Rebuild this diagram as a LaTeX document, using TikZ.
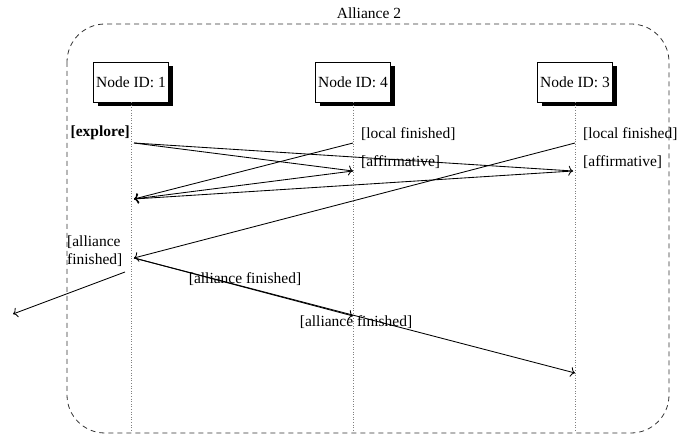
\documentclass[tikz,border=0pt]{standalone}
\usepackage{fontspec}
\setmainfont{Liberation Serif}
\usetikzlibrary{shadows,arrows.meta}
\begin{document}
\begin{tikzpicture}[x=1pt,y=-1pt,
  txt/.style={font=\fontsize{15.5}{18}\selectfont, inner sep=0pt},
  process/.style={draw, fill=white, line width=0.6pt, minimum width=75pt,
    minimum height=40pt, inner sep=2pt, font=\fontsize{15.5}{18}\selectfont,
    drop shadow={shadow xshift=4pt, shadow yshift=-4pt, fill=black, opacity=1}},
  lifeline/.style={gray, dotted, line width=0.6pt},
  msg/.style={-{To[length=4.5pt,width=10pt]}, line width=0.85pt},
  frame/.style={draw=black!80, dash pattern=on 5pt off 4pt, line width=0.8pt,
    rounded corners=38pt}]
\useasboundingbox (0,0) rectangle (680,435);

% alliance frame
\draw[frame] (67,24) rectangle (669,433);
\node[txt] (title) at (369,13) {Alliance 2};

% processes and lifelines
\node[process] (n1) at (131,82) {Node ID: 1};
\node[process] (n4) at (353,82) {Node ID: 4};
\node[process] (n3) at (575,82) {Node ID: 3};
\coordinate (e1) at (131,432);
\coordinate (e4) at (353,432);
\coordinate (e3) at (575,432);
\draw[lifeline] (n1.south) -- (e1);
\draw[lifeline] (n4.south) -- (e4);
\draw[lifeline] (n3.south) -- (e3);

% message end points
\coordinate (x1) at (134,143);
\coordinate (x4) at (353,171);
\coordinate (x3) at (573,171);
\coordinate (l4) at (353,143);
\coordinate (l3) at (575,143);
\coordinate (r1) at (134,199);
\coordinate (af1) at (134,258);
\coordinate (af4) at (353,316);
\coordinate (af3) at (575,373);
\coordinate (ao) at (125,272);
\coordinate (aout) at (13,314);

% explore
\draw[msg] (x1) -- (x4);
\draw[msg] (x1) -- (x3);
% local finished
\draw[msg] (l4) -- (r1);
\draw[msg] (l3) -- (af1);
% affirmative
\draw[msg] (x4) -- (r1);
\draw[msg] (x3) -- (r1);
% alliance finished
\draw[msg] (af1) -- (af4);
\draw[msg] (af1) -- (af3);
\draw[msg] (ao) -- (aout);

% labels
\node[txt, anchor=east] (lex) at (130,133) {\bfseries [explore]};
\node[txt, anchor=west] (ll4) at (361,134) {[local finished]};
\node[txt, anchor=west] (la4) at (361,162) {[affirmative]};
\node[txt, anchor=west] (ll3) at (583,134) {[local finished]};
\node[txt, anchor=west] (la3) at (583,162) {[affirmative]};
\node[txt, anchor=west, align=left] (laf) at (67,251) {[alliance\\finished]};
\node[txt] (laf4) at (245,279) {[alliance finished]};
\node[txt] (laf3) at (356,322) {[alliance finished]};
\end{tikzpicture}
\end{document}
